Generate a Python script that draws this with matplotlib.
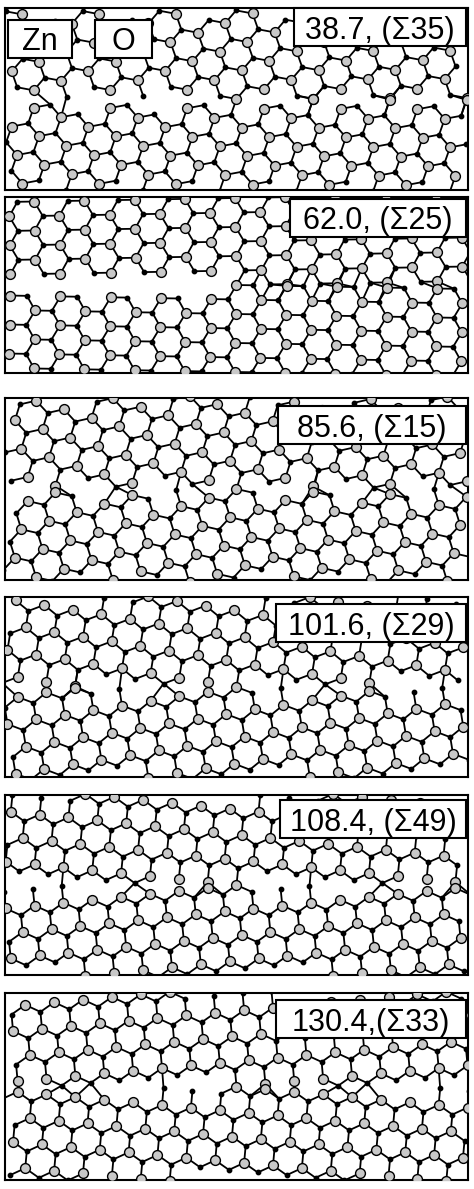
import numpy as np
import matplotlib
matplotlib.use("Agg")
import matplotlib.pyplot as plt
from matplotlib.collections import LineCollection
from matplotlib.patches import Rectangle

plt.rcParams['font.family'] = ['Liberation Sans', 'DejaVu Sans']

angles = [38.7, 62.0, 85.6, 101.6, 108.4, 130.4]
labels = ["38.7, (Σ35)", "62.0, (Σ25)", "85.6, (Σ15)", "101.6, (Σ29)", "108.4, (Σ49)", "130.4,(Σ33)"]
panel_top = [8, 197, 398, 597, 795, 993]
panel_bot = [190, 373, 580, 777, 975, 1180]
label_x = [294, 290, 278, 276, 280, 276]
label_top = [0, 2, 406, 604, 800, 1000]

FW, FH = 474, 1189
fig = plt.figure(figsize=(FW/100, FH/100), dpi=100)
a = 29.0

def grain(theta, W, H, upper):
    n = 36
    i, j = np.meshgrid(np.arange(-n, n), np.arange(-n, n))
    i = i.ravel(); j = j.ravel()
    base = np.stack([a*i + a/2*j, a*np.sqrt(3)/2*j], 1)
    c, s = np.cos(np.radians(theta)), np.sin(np.radians(theta))
    R = np.array([[c, -s], [s, c]])
    zn = base @ R.T + [W/2, H/2]
    o = (base + [a/2, a/(2*np.sqrt(3))]) @ R.T + [W/2, H/2]
    def keep(p):
        m = (p[:, 0] > -3) & (p[:, 0] < W+3) & (p[:, 1] > -3) & (p[:, 1] < H+3)
        m &= (p[:, 1] >= H/2) if upper else (p[:, 1] < H/2)
        return p[m]
    return keep(zn), keep(o)

def box(ax, H, x0, top, x1, height, txt):
    ax.add_patch(Rectangle((x0, H - top - height), x1 - x0, height, fc="white", ec="black",
                           lw=1.5, zorder=5, clip_on=False))
    ax.text((x0 + x1)/2, H - top - height/2, txt, ha="center", va="center_baseline",
            fontsize=22, zorder=6)

for k in range(6):
    x0, x1 = 5, 468
    W = x1 - x0
    H = panel_bot[k] - panel_top[k]
    ax = fig.add_axes([x0/FW, 1 - panel_bot[k]/FH, W/FW, H/FH])
    ax.set_xlim(0, W); ax.set_ylim(0, H)
    z1, o1 = grain(angles[k]/2, W, H, True)
    z2, o2 = grain(-angles[k]/2, W, H, False)
    zn = np.vstack([z1, z2]); o = np.vstack([o1, o2])
    d = np.linalg.norm(zn[:, None, :] - o[None, :, :], axis=2)
    ii, jj = np.where(d < a/np.sqrt(3)*1.3)
    segs = np.stack([zn[ii], o[jj]], 1)
    ax.add_collection(LineCollection(segs, colors="black", linewidths=1.3))
    ax.scatter(zn[:, 0], zn[:, 1], s=50, facecolor="#c8c8c8", edgecolor="black", linewidth=1.0, zorder=3)
    ax.scatter(o[:, 0], o[:, 1], s=10, facecolor="black", edgecolor="black", zorder=3)
    ax.set_xticks([]); ax.set_yticks([])
    for sp in ax.spines.values():
        sp.set_linewidth(1.5)
    top = label_top[k] - panel_top[k] if k >= 2 else label_top[k]
    box(ax, H, label_x[k] - x0, top, 466 - x0, 38, labels[k])
    if k == 0:
        box(ax, H, 8 - x0, 12, 72 - x0, 38, "Zn")
        box(ax, H, 95 - x0, 12, 152 - x0, 38, "O")

fig.savefig("out.png", dpi=100)
